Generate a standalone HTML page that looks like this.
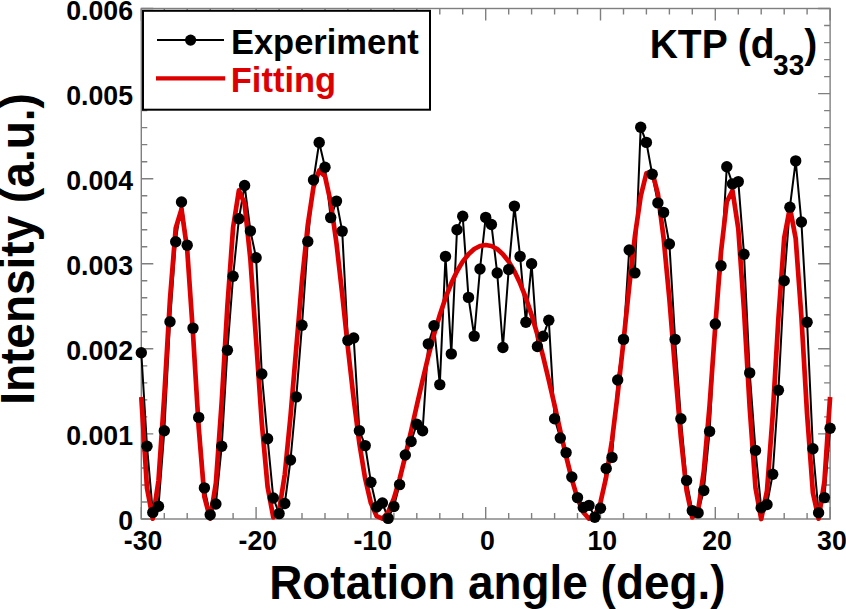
<!DOCTYPE html>
<html><head><meta charset="utf-8"><style>
html,body{margin:0;padding:0;background:#fff;}
svg{display:block;}
text{font-family:"Liberation Sans",sans-serif;font-weight:bold;}
</style></head><body>
<svg width="846" height="609" viewBox="0 0 846 609">
<rect x="0" y="0" width="846" height="609" fill="#fff"/>
<rect x="141.3" y="8.5" width="688.8" height="510.5" fill="none" stroke="#7f7f7f" stroke-width="1.4"/>
<path d="M141.3 519.0V507.0M141.3 8.5V20.5M164.3 519.0V513.0M164.3 8.5V14.5M187.2 519.0V513.0M187.2 8.5V14.5M210.2 519.0V513.0M210.2 8.5V14.5M233.1 519.0V513.0M233.1 8.5V14.5M256.1 519.0V507.0M256.1 8.5V20.5M279.1 519.0V513.0M279.1 8.5V14.5M302.0 519.0V513.0M302.0 8.5V14.5M325.0 519.0V513.0M325.0 8.5V14.5M347.9 519.0V513.0M347.9 8.5V14.5M370.9 519.0V507.0M370.9 8.5V20.5M393.9 519.0V513.0M393.9 8.5V14.5M416.8 519.0V513.0M416.8 8.5V14.5M439.8 519.0V513.0M439.8 8.5V14.5M462.7 519.0V513.0M462.7 8.5V14.5M485.7 519.0V507.0M485.7 8.5V20.5M508.7 519.0V513.0M508.7 8.5V14.5M531.6 519.0V513.0M531.6 8.5V14.5M554.6 519.0V513.0M554.6 8.5V14.5M577.5 519.0V513.0M577.5 8.5V14.5M600.5 519.0V507.0M600.5 8.5V20.5M623.5 519.0V513.0M623.5 8.5V14.5M646.4 519.0V513.0M646.4 8.5V14.5M669.4 519.0V513.0M669.4 8.5V14.5M692.3 519.0V513.0M692.3 8.5V14.5M715.3 519.0V507.0M715.3 8.5V20.5M738.3 519.0V513.0M738.3 8.5V14.5M761.2 519.0V513.0M761.2 8.5V14.5M784.2 519.0V513.0M784.2 8.5V14.5M807.1 519.0V513.0M807.1 8.5V14.5M830.1 519.0V507.0M830.1 8.5V20.5M141.3 519.0H153.3M830.1 519.0H818.1000000000001M141.3 502.0H147.3M830.1 502.0H824.1000000000001M141.3 485.0H147.3M830.1 485.0H824.1000000000001M141.3 468.0H147.3M830.1 468.0H824.1000000000001M141.3 450.9H147.3M830.1 450.9H824.1000000000001M141.3 433.9H153.3M830.1 433.9H818.1000000000001M141.3 416.9H147.3M830.1 416.9H824.1000000000001M141.3 399.9H147.3M830.1 399.9H824.1000000000001M141.3 382.9H147.3M830.1 382.9H824.1000000000001M141.3 365.9H147.3M830.1 365.9H824.1000000000001M141.3 348.8H153.3M830.1 348.8H818.1000000000001M141.3 331.8H147.3M830.1 331.8H824.1000000000001M141.3 314.8H147.3M830.1 314.8H824.1000000000001M141.3 297.8H147.3M830.1 297.8H824.1000000000001M141.3 280.8H147.3M830.1 280.8H824.1000000000001M141.3 263.8H153.3M830.1 263.8H818.1000000000001M141.3 246.7H147.3M830.1 246.7H824.1000000000001M141.3 229.7H147.3M830.1 229.7H824.1000000000001M141.3 212.7H147.3M830.1 212.7H824.1000000000001M141.3 195.7H147.3M830.1 195.7H824.1000000000001M141.3 178.7H153.3M830.1 178.7H818.1000000000001M141.3 161.7H147.3M830.1 161.7H824.1000000000001M141.3 144.6H147.3M830.1 144.6H824.1000000000001M141.3 127.6H147.3M830.1 127.6H824.1000000000001M141.3 110.6H147.3M830.1 110.6H824.1000000000001M141.3 93.6H153.3M830.1 93.6H818.1000000000001M141.3 76.6H147.3M830.1 76.6H824.1000000000001M141.3 59.6H147.3M830.1 59.6H824.1000000000001M141.3 42.6H147.3M830.1 42.6H824.1000000000001M141.3 25.5H147.3M830.1 25.5H824.1000000000001M141.3 8.5H153.3M830.1 8.5H818.1000000000001" stroke="#7f7f7f" stroke-width="1.4" fill="none"/>
<polyline points="141.3,352.7 147.0,446.3 152.8,512.5 158.5,506.3 164.3,430.7 170.0,321.7 175.7,241.7 181.5,202.0 187.2,245.3 193.0,328.1 198.7,417.4 204.4,487.9 210.2,514.8 215.9,504.0 221.7,446.3 227.4,350.3 233.1,276.3 238.9,218.8 244.6,185.5 250.4,230.9 256.1,257.8 261.8,374.0 267.6,438.7 273.3,498.0 279.1,513.6 284.8,503.5 290.5,460.0 296.3,396.9 302.0,325.2 307.8,241.5 313.5,180.0 319.2,142.5 325.0,167.3 330.7,217.6 336.5,201.1 342.2,231.1 347.9,340.4 353.7,338.0 359.4,430.7 365.2,445.6 370.9,482.2 376.6,507.0 382.4,503.0 388.1,518.4 393.9,506.5 399.6,484.6 405.3,455.0 411.1,441.5 416.8,424.3 422.6,430.7 428.3,343.9 434.0,325.7 439.8,384.6 445.5,256.4 451.3,353.9 457.0,229.7 462.7,216.2 468.5,297.4 474.2,336.1 480.0,269.0 485.7,217.4 491.4,224.5 497.2,273.0 502.9,347.5 508.7,269.5 514.4,206.1 520.1,256.4 525.9,322.2 531.6,263.7 537.4,346.5 543.1,336.3 548.8,320.2 554.6,418.8 560.3,438.0 566.1,452.6 571.8,477.0 577.5,497.6 583.3,507.5 589.0,505.4 594.8,517.2 600.5,508.2 606.2,468.5 612.0,457.4 617.7,380.0 623.5,339.4 629.2,250.0 634.9,272.9 640.7,127.3 646.4,142.4 652.2,174.3 657.9,202.9 663.6,212.4 669.4,244.0 675.1,339.4 680.9,418.8 686.6,480.5 692.3,510.6 698.1,512.9 703.8,490.5 709.6,431.4 715.3,324.0 721.0,265.8 726.8,166.8 732.5,183.9 738.3,181.6 744.0,254.2 749.7,372.9 755.5,450.4 761.2,507.8 767.0,504.5 772.7,474.3 778.4,390.3 784.2,280.8 789.9,207.2 795.7,160.9 801.4,222.0 807.1,322.2 812.9,448.8 818.6,512.7 824.4,497.6 830.1,428.3" fill="none" stroke="#000" stroke-width="2" stroke-linejoin="round"/>
<polyline points="141.3,397.0 147.0,488.1 152.8,518.7 158.5,480.5 164.3,395.4 170.0,298.8 175.7,228.3 181.5,209.1 187.2,249.7 193.0,333.7 198.7,427.6 204.4,497.0 210.2,518.7 215.9,482.9 221.7,401.9 227.4,305.9 233.1,227.5 238.9,190.4 244.6,203.5 250.4,259.5 256.1,340.3 261.8,423.0 267.6,486.7 273.3,517.3 279.1,510.9 284.8,474.3 290.5,416.2 296.3,347.8 302.0,280.7 307.8,224.8 313.5,186.9 319.2,170.5 325.0,176.2 330.7,202.2 336.5,243.5 342.2,294.1 347.9,347.7 353.7,398.9 359.4,443.6 365.2,478.8 370.9,503.1 376.6,516.1 382.4,518.7 388.1,512.2 393.9,498.4 399.6,479.1 405.3,456.1 411.1,431.0 416.8,405.4 422.6,380.2 428.3,356.4 434.0,334.6 439.8,315.0 445.5,297.9 451.3,283.3 457.0,271.2 462.7,261.6 468.5,254.2 474.2,249.0 480.0,246.0 485.7,245.0 491.4,246.0 497.2,249.0 502.9,254.2 508.7,261.6 514.4,271.2 520.1,283.3 525.9,297.9 531.6,315.0 537.4,334.6 543.1,356.4 548.8,380.2 554.6,405.4 560.3,431.0 566.1,456.1 571.8,479.1 577.5,498.4 583.3,512.2 589.0,518.7 594.8,516.0 600.5,502.3 606.2,476.9 612.0,440.3 617.7,394.0 623.5,341.2 629.2,286.7 634.9,236.2 640.7,196.3 646.4,173.2 652.2,171.9 657.9,193.9 663.6,237.9 669.4,299.3 675.1,369.8 680.9,437.8 686.6,490.8 692.3,517.4 698.1,510.7 703.8,471.2 709.6,405.2 715.3,326.1 721.0,252.0 726.8,201.8 732.5,190.5 738.3,228.9 744.0,309.9 749.7,407.8 755.5,487.8 761.2,519.0 767.0,490.8 772.7,415.0 778.4,318.3 784.2,238.0 789.9,207.8 795.7,238.5 801.4,316.9 807.1,414.4 812.9,492.7 818.6,518.7 824.4,481.6 830.1,397.0" fill="none" stroke="#dd0000" stroke-width="4.7" stroke-linejoin="round"/>
<g fill="#000"><circle cx="141.3" cy="352.7" r="5.7"/><circle cx="147.0" cy="446.3" r="5.7"/><circle cx="152.8" cy="512.5" r="5.7"/><circle cx="158.5" cy="506.3" r="5.7"/><circle cx="164.3" cy="430.7" r="5.7"/><circle cx="170.0" cy="321.7" r="5.7"/><circle cx="175.7" cy="241.7" r="5.7"/><circle cx="181.5" cy="202.0" r="5.7"/><circle cx="187.2" cy="245.3" r="5.7"/><circle cx="193.0" cy="328.1" r="5.7"/><circle cx="198.7" cy="417.4" r="5.7"/><circle cx="204.4" cy="487.9" r="5.7"/><circle cx="210.2" cy="514.8" r="5.7"/><circle cx="215.9" cy="504.0" r="5.7"/><circle cx="221.7" cy="446.3" r="5.7"/><circle cx="227.4" cy="350.3" r="5.7"/><circle cx="233.1" cy="276.3" r="5.7"/><circle cx="238.9" cy="218.8" r="5.7"/><circle cx="244.6" cy="185.5" r="5.7"/><circle cx="250.4" cy="230.9" r="5.7"/><circle cx="256.1" cy="257.8" r="5.7"/><circle cx="261.8" cy="374.0" r="5.7"/><circle cx="267.6" cy="438.7" r="5.7"/><circle cx="273.3" cy="498.0" r="5.7"/><circle cx="279.1" cy="513.6" r="5.7"/><circle cx="284.8" cy="503.5" r="5.7"/><circle cx="290.5" cy="460.0" r="5.7"/><circle cx="296.3" cy="396.9" r="5.7"/><circle cx="302.0" cy="325.2" r="5.7"/><circle cx="307.8" cy="241.5" r="5.7"/><circle cx="313.5" cy="180.0" r="5.7"/><circle cx="319.2" cy="142.5" r="5.7"/><circle cx="325.0" cy="167.3" r="5.7"/><circle cx="330.7" cy="217.6" r="5.7"/><circle cx="336.5" cy="201.1" r="5.7"/><circle cx="342.2" cy="231.1" r="5.7"/><circle cx="347.9" cy="340.4" r="5.7"/><circle cx="353.7" cy="338.0" r="5.7"/><circle cx="359.4" cy="430.7" r="5.7"/><circle cx="365.2" cy="445.6" r="5.7"/><circle cx="370.9" cy="482.2" r="5.7"/><circle cx="376.6" cy="507.0" r="5.7"/><circle cx="382.4" cy="503.0" r="5.7"/><circle cx="388.1" cy="518.4" r="5.7"/><circle cx="393.9" cy="506.5" r="5.7"/><circle cx="399.6" cy="484.6" r="5.7"/><circle cx="405.3" cy="455.0" r="5.7"/><circle cx="411.1" cy="441.5" r="5.7"/><circle cx="416.8" cy="424.3" r="5.7"/><circle cx="422.6" cy="430.7" r="5.7"/><circle cx="428.3" cy="343.9" r="5.7"/><circle cx="434.0" cy="325.7" r="5.7"/><circle cx="439.8" cy="384.6" r="5.7"/><circle cx="445.5" cy="256.4" r="5.7"/><circle cx="451.3" cy="353.9" r="5.7"/><circle cx="457.0" cy="229.7" r="5.7"/><circle cx="462.7" cy="216.2" r="5.7"/><circle cx="468.5" cy="297.4" r="5.7"/><circle cx="474.2" cy="336.1" r="5.7"/><circle cx="480.0" cy="269.0" r="5.7"/><circle cx="485.7" cy="217.4" r="5.7"/><circle cx="491.4" cy="224.5" r="5.7"/><circle cx="497.2" cy="273.0" r="5.7"/><circle cx="502.9" cy="347.5" r="5.7"/><circle cx="508.7" cy="269.5" r="5.7"/><circle cx="514.4" cy="206.1" r="5.7"/><circle cx="520.1" cy="256.4" r="5.7"/><circle cx="525.9" cy="322.2" r="5.7"/><circle cx="531.6" cy="263.7" r="5.7"/><circle cx="537.4" cy="346.5" r="5.7"/><circle cx="543.1" cy="336.3" r="5.7"/><circle cx="548.8" cy="320.2" r="5.7"/><circle cx="554.6" cy="418.8" r="5.7"/><circle cx="560.3" cy="438.0" r="5.7"/><circle cx="566.1" cy="452.6" r="5.7"/><circle cx="571.8" cy="477.0" r="5.7"/><circle cx="577.5" cy="497.6" r="5.7"/><circle cx="583.3" cy="507.5" r="5.7"/><circle cx="589.0" cy="505.4" r="5.7"/><circle cx="594.8" cy="517.2" r="5.7"/><circle cx="600.5" cy="508.2" r="5.7"/><circle cx="606.2" cy="468.5" r="5.7"/><circle cx="612.0" cy="457.4" r="5.7"/><circle cx="617.7" cy="380.0" r="5.7"/><circle cx="623.5" cy="339.4" r="5.7"/><circle cx="629.2" cy="250.0" r="5.7"/><circle cx="634.9" cy="272.9" r="5.7"/><circle cx="640.7" cy="127.3" r="5.7"/><circle cx="646.4" cy="142.4" r="5.7"/><circle cx="652.2" cy="174.3" r="5.7"/><circle cx="657.9" cy="202.9" r="5.7"/><circle cx="663.6" cy="212.4" r="5.7"/><circle cx="669.4" cy="244.0" r="5.7"/><circle cx="675.1" cy="339.4" r="5.7"/><circle cx="680.9" cy="418.8" r="5.7"/><circle cx="686.6" cy="480.5" r="5.7"/><circle cx="692.3" cy="510.6" r="5.7"/><circle cx="698.1" cy="512.9" r="5.7"/><circle cx="703.8" cy="490.5" r="5.7"/><circle cx="709.6" cy="431.4" r="5.7"/><circle cx="715.3" cy="324.0" r="5.7"/><circle cx="721.0" cy="265.8" r="5.7"/><circle cx="726.8" cy="166.8" r="5.7"/><circle cx="732.5" cy="183.9" r="5.7"/><circle cx="738.3" cy="181.6" r="5.7"/><circle cx="744.0" cy="254.2" r="5.7"/><circle cx="749.7" cy="372.9" r="5.7"/><circle cx="755.5" cy="450.4" r="5.7"/><circle cx="761.2" cy="507.8" r="5.7"/><circle cx="767.0" cy="504.5" r="5.7"/><circle cx="772.7" cy="474.3" r="5.7"/><circle cx="778.4" cy="390.3" r="5.7"/><circle cx="784.2" cy="280.8" r="5.7"/><circle cx="789.9" cy="207.2" r="5.7"/><circle cx="795.7" cy="160.9" r="5.7"/><circle cx="801.4" cy="222.0" r="5.7"/><circle cx="807.1" cy="322.2" r="5.7"/><circle cx="812.9" cy="448.8" r="5.7"/><circle cx="818.6" cy="512.7" r="5.7"/><circle cx="824.4" cy="497.6" r="5.7"/><circle cx="830.1" cy="428.3" r="5.7"/></g>
<rect x="143" y="10.8" width="287" height="98.9" fill="#fff" stroke="#000" stroke-width="2"/>
<path d="M157 40.1H224" stroke="#000" stroke-width="2"/>
<circle cx="190.6" cy="40.1" r="5.6" fill="#000"/>
<path d="M156 78.4H225.2" stroke="#dd0000" stroke-width="4.2"/>
<text transform="translate(230.9 54) scale(1 1.04)" font-size="34.5">Experiment</text>
<text transform="translate(230.8 92.3) scale(1 1.04)" font-size="34.5" fill="#dd0000">Fitting</text>
<text transform="translate(649.7 58.2) scale(1 1.04)" font-size="39">KTP (d<tspan font-size="28" dx="-1.5" dy="16.6">33</tspan><tspan dy="-16.6">)</tspan></text>
<g font-size="26.7"><text transform="translate(133 530.0) scale(1 1.04)" text-anchor="end">0</text><text transform="translate(133 444.9) scale(1 1.04)" text-anchor="end">0.001</text><text transform="translate(133 359.8) scale(1 1.04)" text-anchor="end">0.002</text><text transform="translate(133 274.8) scale(1 1.04)" text-anchor="end">0.003</text><text transform="translate(133 189.7) scale(1 1.04)" text-anchor="end">0.004</text><text transform="translate(133 104.6) scale(1 1.04)" text-anchor="end">0.005</text><text transform="translate(133 19.5) scale(1 1.04)" text-anchor="end">0.006</text><text transform="translate(143.1 550) scale(1 1.04)" text-anchor="middle">-30</text><text transform="translate(257.9 550) scale(1 1.04)" text-anchor="middle">-20</text><text transform="translate(372.7 550) scale(1 1.04)" text-anchor="middle">-10</text><text transform="translate(487.5 550) scale(1 1.04)" text-anchor="middle">0</text><text transform="translate(602.3 550) scale(1 1.04)" text-anchor="middle">10</text><text transform="translate(717.1 550) scale(1 1.04)" text-anchor="middle">20</text><text transform="translate(831.9 550) scale(1 1.04)" text-anchor="middle">30</text></g>
<text transform="translate(269.2 598.8) scale(1 1.04)" font-size="45.9">Rotation angle (deg.)</text>
<text transform="translate(34.2 404.8) rotate(-90) scale(1 1.04)" font-size="46">Intensity (a.u.)</text>
</svg>
</body></html>
